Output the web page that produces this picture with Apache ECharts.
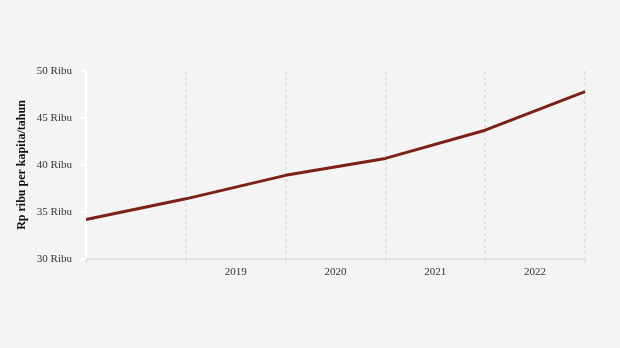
<!DOCTYPE html>
<html>
<head>
<meta charset="utf-8">
<script src="https://cdn.jsdelivr.net/npm/echarts@6/dist/echarts.min.js"></script>
<style>
  html, body { margin: 0; padding: 0; background: #f4f4f4; }
  #chart { width: 620px; height: 348px; }
</style>
</head>
<body>
<div id="chart"></div>
<script>
// Year labels shown under each yearly band
const yearLabels = ['', '2019', '2020', '2021', '2022'];
// Position of each observation on the year scale (band boundaries)
const pointPos = [0, 1, 2, 3, 4, 5];
// Income per capita per year, thousand rupiah
const values = [34.2, 36.4, 38.9, 40.7, 43.7, 47.8];
// Y axis ticks
const yMin = 30, yMax = 50, yStep = 5;

const font = '"Liberation Serif", "DejaVu Serif", serif';

const chart = echarts.init(document.getElementById('chart'), null, { renderer: 'canvas' });
chart.setOption({
  backgroundColor: '#f4f4f4',
  animation: false,
  grid: { left: 86, right: 35, top: 71, bottom: 89 },
  xAxis: [
    {
      type: 'value',
      min: 0, max: 5, interval: 1,
      axisLine: { show: true, lineStyle: { color: '#e3e3e3', width: 2 } },
      axisTick: { show: true, length: 6, lineStyle: { color: '#dadada', type: 'dashed' } },
      axisLabel: { show: false },
      splitLine: { show: true, lineStyle: { color: '#dadada', type: [3, 3], width: 1.5 } }
    },
    {
      type: 'category',
      data: yearLabels,
      boundaryGap: true,
      position: 'bottom',
      axisLine: { show: false },
      axisTick: { show: false },
      splitLine: { show: false },
      axisLabel: { color: '#333', fontFamily: font, fontSize: 11, margin: 8 }
    }
  ],
  yAxis: {
    type: 'value',
    min: yMin, max: yMax, interval: yStep,
    name: 'Rp ribu per kapita/tahun',
    nameLocation: 'middle',
    nameGap: 58,
    nameMoveOverlap: false,
    nameTextStyle: { fontFamily: font, fontSize: 12, fontWeight: 'bold', color: '#111' },
    axisLine: { show: true, lineStyle: { color: '#ffffff', width: 2 } },
    axisTick: { show: true, length: 5, lineStyle: { color: '#ffffff', width: 2 } },
    axisLabel: { color: '#333', fontFamily: font, fontSize: 11, margin: 14,
      formatter: v => v + ' Ribu' },
    splitLine: { show: false }
  },
  series: [{
    type: 'line',
    xAxisIndex: 0,
    data: pointPos.map((p, i) => [p, values[i]]),
    showSymbol: false,
    lineStyle: { color: '#7b2116', width: 3 },
    itemStyle: { color: '#7b2116' }
  }]
});
</script>
</body>
</html>
